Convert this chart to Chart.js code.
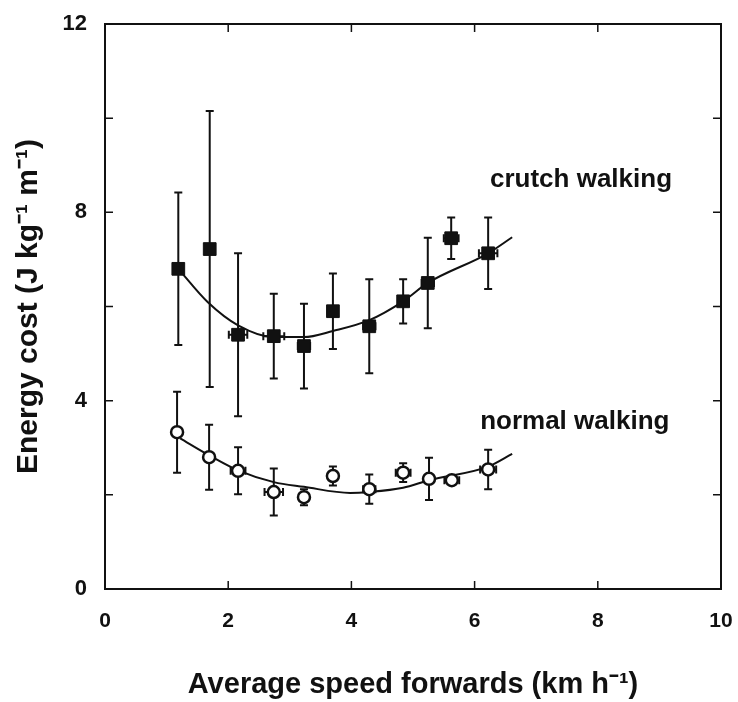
<!DOCTYPE html>
<html>
<head>
<meta charset="utf-8">
<script src="https://cdn.jsdelivr.net/npm/chart.js@4.4.1/dist/chart.umd.min.js"></script>
<style>
  html, body { margin: 0; padding: 0; background: #fff; }
</style>
</head>
<body>
<canvas id="myChart" width="738" height="702"></canvas>
<script>
// crutch walking (filled squares)
const speedCrutch = [1.19, 1.70, 2.16, 2.74, 3.23, 3.70, 4.29, 4.84, 5.24, 5.62, 6.22];
const costCrutch = [6.80, 7.22, 5.40, 5.37, 5.16, 5.90, 5.58, 6.11, 6.50, 7.45, 7.13];
const costErrCrutch = [1.62, 2.93, 1.73, 0.90, 0.90, 0.80, 1.00, 0.47, 0.96, 0.44, 0.76];
const speedErrCrutch = [0.06, 0.06, 0.15, 0.17, 0.10, 0.06, 0.10, 0.08, 0.10, 0.12, 0.15];

// normal walking (open circles)
const speedNormal = [1.17, 1.69, 2.16, 2.74, 3.23, 3.70, 4.29, 4.84, 5.26, 5.63, 6.22];
const costNormal = [3.33, 2.80, 2.51, 2.06, 1.95, 2.40, 2.12, 2.47, 2.34, 2.31, 2.54];
const costErrNormal = [0.86, 0.69, 0.50, 0.50, 0.17, 0.20, 0.31, 0.20, 0.45, 0.05, 0.42];
const speedErrNormal = [0.06, 0.06, 0.12, 0.15, 0.08, 0.06, 0.10, 0.12, 0.08, 0.12, 0.13];

// fitted curves
const fitSpeedCrutch = [1.19, 1.67, 2.16, 2.74, 3.23, 3.70, 4.29, 4.84, 5.24, 6.22, 6.61];
const fitCostCrutch = [6.80, 6.09, 5.60, 5.35, 5.35, 5.48, 5.71, 6.11, 6.50, 7.13, 7.47];
const fitSpeedNormal = [1.22, 1.69, 2.16, 2.74, 3.23, 3.98, 4.29, 4.84, 5.26, 6.22, 6.61];
const fitCostNormal = [3.20, 2.84, 2.52, 2.27, 2.17, 2.04, 2.06, 2.15, 2.31, 2.60, 2.87];

const xTicks = [0, 2, 4, 6, 8, 10];
const yTicks = [0, 4, 8, 12];

const toXY = (xs, ys) => xs.map((x, i) => ({ x: x, y: ys[i] }));

const ink = '#111';
const fam = '"Liberation Sans", Arial, sans-serif';

const framePlugin = {
  id: 'frame',
  beforeDatasetsDraw(chart) {
    const { ctx, chartArea: a, scales } = chart;
    const xs = scales.x, ys = scales.y;
    ctx.save();
    ctx.strokeStyle = ink;
    ctx.lineWidth = 2;
    ctx.strokeRect(a.left, a.top, a.right - a.left, a.bottom - a.top);
    // inward ticks on all four sides
    ctx.lineWidth = 1.5;
    const tl = 8;
    xs.ticks.forEach(t => {
      const px = xs.getPixelForValue(t.value);
      ctx.beginPath();
      ctx.moveTo(px, a.bottom); ctx.lineTo(px, a.bottom - tl);
      ctx.moveTo(px, a.top); ctx.lineTo(px, a.top + tl);
      ctx.stroke();
    });
    ys.ticks.forEach(t => {
      const py = ys.getPixelForValue(t.value);
      ctx.beginPath();
      ctx.moveTo(a.left, py); ctx.lineTo(a.left + tl, py);
      ctx.moveTo(a.right, py); ctx.lineTo(a.right - tl, py);
      ctx.stroke();
    });

    // error bars
    const bars = (sx, sy, ex, ey) => {
      sx.forEach((x, i) => {
        const cx = xs.getPixelForValue(x), cy = ys.getPixelForValue(sy[i]);
        const top = ys.getPixelForValue(sy[i] + ey[i]);
        const bot = ys.getPixelForValue(sy[i] - ey[i]);
        const lft = xs.getPixelForValue(x - ex[i]);
        const rgt = xs.getPixelForValue(x + ex[i]);
        ctx.beginPath();
        ctx.moveTo(cx, top); ctx.lineTo(cx, bot);
        ctx.moveTo(cx - 4, top); ctx.lineTo(cx + 4, top);
        ctx.moveTo(cx - 4, bot); ctx.lineTo(cx + 4, bot);
        ctx.moveTo(lft, cy); ctx.lineTo(rgt, cy);
        ctx.moveTo(lft, cy - 4); ctx.lineTo(lft, cy + 4);
        ctx.moveTo(rgt, cy - 4); ctx.lineTo(rgt, cy + 4);
        ctx.stroke();
      });
    };
    ctx.lineWidth = 2;
    bars(speedCrutch, costCrutch, speedErrCrutch, costErrCrutch);
    bars(speedNormal, costNormal, speedErrNormal, costErrNormal);

    // curve labels
    ctx.fillStyle = ink;
    ctx.font = 'bold 26px ' + fam;
    ctx.textBaseline = 'middle';
    ctx.textAlign = 'left';
    ctx.fillText('crutch walking', xs.getPixelForValue(6.25), ys.getPixelForValue(8.68));
    ctx.fillText('normal walking', xs.getPixelForValue(6.09), ys.getPixelForValue(3.55));
    ctx.restore();
  }
};

const chart = new Chart(document.getElementById('myChart'), {
  type: 'scatter',
  data: {
    datasets: [{
      label: 'crutch walking',
      data: toXY(speedCrutch, costCrutch),
      pointStyle: 'rect',
      pointRadius: 9,
      backgroundColor: ink,
      borderColor: ink,
      borderWidth: 1,
      order: 0
    }, {
      label: 'normal walking',
      data: toXY(speedNormal, costNormal),
      pointStyle: 'circle',
      pointRadius: 6,
      backgroundColor: '#fff',
      borderColor: ink,
      borderWidth: 2.5,
      order: 0
    }, {
      type: 'line',
      data: toXY(fitSpeedCrutch, fitCostCrutch),
      borderColor: ink,
      borderWidth: 2,
      pointRadius: 0,
      tension: 0.4,
      cubicInterpolationMode: 'monotone',
      fill: false,
      order: 1
    }, {
      type: 'line',
      data: toXY(fitSpeedNormal, fitCostNormal),
      borderColor: ink,
      borderWidth: 2,
      pointRadius: 0,
      tension: 0.4,
      cubicInterpolationMode: 'monotone',
      fill: false,
      order: 1
    }]
  },
  options: {
    responsive: false,
    animation: false,
    devicePixelRatio: 1,
    layout: { padding: { top: 24, right: 17, left: 0, bottom: 0 } },
    plugins: { legend: { display: false }, tooltip: { enabled: false } },
    scales: {
      x: {
        type: 'linear',
        min: 0, max: 10,
        afterBuildTicks: s => { s.ticks = xTicks.map(v => ({ value: v })); },
        afterFit: s => { s.height = 113; s.paddingLeft = 0; s.paddingRight = 0; },
        grid: { display: false },
        border: { display: false },
        ticks: {
          color: ink,
          padding: 12,
          font: { family: fam, size: 21, weight: 'bold' }
        },
        title: {
          display: true,
          text: 'Average speed forwards (km h⁻¹)',
          color: ink,
          padding: { top: 0, bottom: 0 },
          font: { family: fam, size: 29, weight: 'bold' }
        }
      },
      y: {
        type: 'linear',
        min: 0, max: 12,
        afterBuildTicks: s => { s.ticks = [0, 2, 4, 6, 8, 10, 12].map(v => ({ value: v })); },
        afterFit: s => { s.width = 105; s.paddingTop = 0; s.paddingBottom = 0; },
        grid: { display: false },
        border: { display: false },
        ticks: {
          color: ink,
          padding: 10,
          callback: v => yTicks.includes(v) ? String(v) : '',
          font: { family: fam, size: 22, weight: 'bold' }
        },
        title: {
          display: true,
          text: 'Energy cost (J kg⁻¹ m⁻¹)',
          color: ink,
          padding: { top: 11, bottom: 0 },
          font: { family: fam, size: 30, weight: 'bold' }
        }
      }
    }
  },
  plugins: [framePlugin]
});
</script>
</body>
</html>
